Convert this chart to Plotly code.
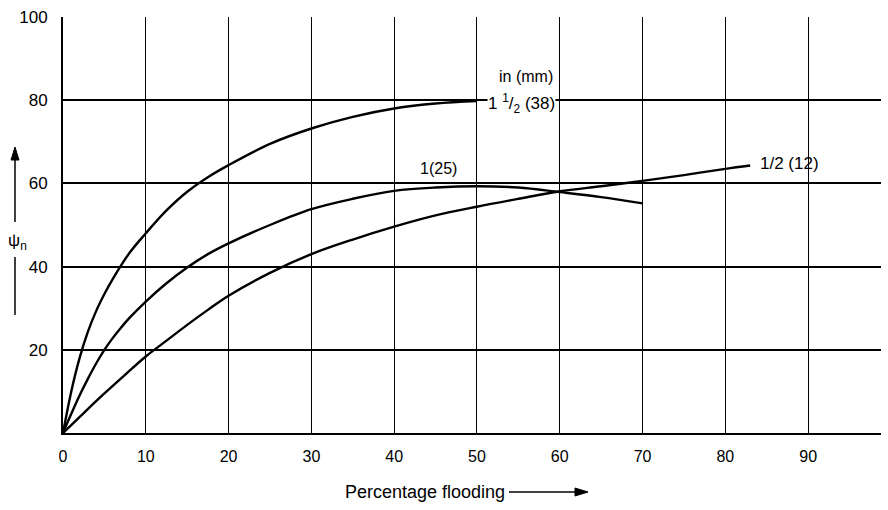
import plotly.graph_objects as go

# Percentage flooding (x) vs psi_n (y) for three packing sizes
x_38 = [0, 1, 2, 3, 4, 5, 6, 8, 10, 12.5, 15, 17.5, 20, 25, 30, 35, 40, 45, 50]
y_38 = [0, 10, 18, 24.3, 29.3, 33.4, 37, 43.2, 48, 53.5, 58, 61.5, 64.4, 69.5, 73.2, 76, 78, 79.2, 79.8]

x_25 = [0, 1, 2, 3, 4, 5, 6, 7, 8, 10, 12.5, 15, 17.5, 20, 25, 30, 35, 40, 45, 50, 55, 60, 65, 70]
y_25 = [0, 4.6, 9, 13, 16.7, 20, 22.8, 25.3, 27.6, 31.6, 36, 39.8, 43, 45.6, 50, 53.8, 56.3, 58.2, 59, 59.3, 59, 57.9, 56.7, 55.2]

x_12 = [0, 2.5, 5, 7.5, 10, 12.5, 15, 17.5, 20, 25, 30, 35, 40, 45, 50, 55, 60, 65, 70, 75, 80, 83]
y_12 = [0, 4.8, 9.5, 14, 18.4, 22.2, 26, 29.6, 33, 38.5, 43, 46.5, 49.6, 52.3, 54.4, 56.3, 58.1, 59.3, 60.6, 62, 63.5, 64.3]

x_ticks = [0, 10, 20, 30, 40, 50, 60, 70, 80, 90]
y_ticks = [20, 40, 60, 80, 100]

FONT = "Liberation Sans, Arial, sans-serif"

# plot-area geometry (pixels) used only to place the outside-axis decorations
L, R, T, B = 63, 7, 17, 77
PW, PH = 888 - L - R, 510 - T - B


def px_x(p):
    return (p - L) / PW


def px_y(p):
    return (510 - B - p) / PH


fig = go.Figure()
for xs, ys in [(x_38, y_38), (x_25, y_25), (x_12, y_12)]:
    fig.add_trace(go.Scatter(x=xs, y=ys, mode="lines",
                             line=dict(color="black", width=2.4, shape="spline", smoothing=1.0),
                             showlegend=False, hoverinfo="skip"))

fig.update_layout(
    width=888, height=510,
    margin=dict(l=L, r=R, t=T, b=B),
    paper_bgcolor="white", plot_bgcolor="white",
    font=dict(family=FONT, color="black"),
    xaxis=dict(range=[0, 98.8], tickvals=x_ticks, ticktext=[str(v) for v in x_ticks],
               showgrid=True, gridcolor="black", gridwidth=1.3,
               showline=True, linecolor="black", linewidth=1.8,
               zeroline=False, ticks="", tickfont=dict(size=16), ticklabelstandoff=8),
    yaxis=dict(range=[0, 100], tickvals=y_ticks, ticktext=[str(v) for v in y_ticks],
               showgrid=True, gridcolor="black", gridwidth=1.9,
               showline=True, linecolor="black", linewidth=1.8,
               zeroline=False, ticks="", tickfont=dict(size=17), ticklabelstandoff=10),
)

annots = [
    dict(x=59.4, y=85.6, text="in (mm)", xanchor="right", yanchor="middle", size=16),
    dict(x=59.5, y=79.3, text="1 <sup>1</sup>/<sub>2</sub> (38)", xanchor="right", yanchor="middle",
         size=17, bgcolor="white", borderpad=0),
    dict(x=45.3, y=63.7, text="1(25)", xanchor="center", yanchor="middle", size=16),
    dict(x=84.0, y=64.9, text="1/2 (12)", xanchor="left", yanchor="middle", size=17),
]
for a in annots:
    sz = a.pop("size")
    fig.add_annotation(xref="x", yref="y", showarrow=False,
                       font=dict(family=FONT, color="black", size=sz), **a)

# y-axis label with arrow
fig.add_annotation(xref="paper", yref="paper", x=px_x(17), y=px_y(242), text="ψ<sub>n</sub>",
                   showarrow=False, xanchor="center", yanchor="middle",
                   font=dict(family=FONT, size=17, color="black"))
fig.add_shape(type="line", xref="paper", yref="paper", x0=px_x(15), x1=px_x(15),
              y0=px_y(222), y1=px_y(156), line=dict(color="black", width=1.5))
fig.add_shape(type="path", xref="paper", yref="paper",
              path=f"M {px_x(15)} {px_y(147)} L {px_x(11)} {px_y(160)} L {px_x(19)} {px_y(160)} Z",
              fillcolor="black", line=dict(color="black", width=1))
fig.add_shape(type="line", xref="paper", yref="paper", x0=px_x(15), x1=px_x(15),
              y0=px_y(257), y1=px_y(315), line=dict(color="black", width=1.5))

# x-axis label with arrow
fig.add_annotation(xref="paper", yref="paper", x=px_x(343), y=px_y(492), text="Percentage flooding",
                   showarrow=False, xanchor="left", yanchor="middle",
                   font=dict(family=FONT, size=18, color="black"))
fig.add_shape(type="line", xref="paper", yref="paper", x0=px_x(509), x1=px_x(578),
              y0=px_y(492), y1=px_y(492), line=dict(color="black", width=1.5))
fig.add_shape(type="path", xref="paper", yref="paper",
              path=f"M {px_x(588)} {px_y(492)} L {px_x(575)} {px_y(488)} L {px_x(575)} {px_y(496)} Z",
              fillcolor="black", line=dict(color="black", width=1))

fig.write_html("out.html")
